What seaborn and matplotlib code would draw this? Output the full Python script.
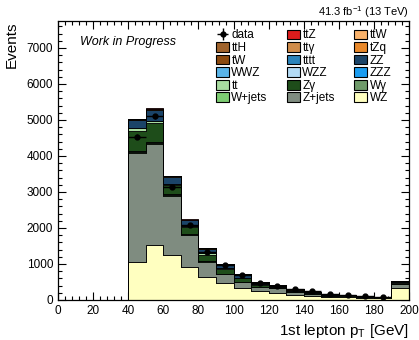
import matplotlib
matplotlib.use("Agg")
import matplotlib.pyplot as plt
import numpy as np
import pandas as pd
import seaborn as sns
from matplotlib.patches import Patch
from matplotlib.ticker import MultipleLocator

sns.set_style("ticks")
plt.rcParams["font.family"] = ["Liberation Sans", "DejaVu Sans"]
plt.rcParams["mathtext.default"] = "regular"
for key in ["text.color", "axes.labelcolor", "xtick.color", "ytick.color", "axes.edgecolor"]:
    plt.rcParams[key] = "black"

# bin lower edges 40..190 (GeV), 10 GeV wide; last bin holds overflow
bin_low = [40, 50, 60, 70, 80, 90, 100, 110, 120, 130, 140, 150, 160, 170, 180, 190]

# stacked backgrounds, top of stack first (same as legend order)
ttZ = [8, 12, 7, 7, 7, 6, 5, 4, 4, 3, 3, 2, 2, 2, 2, 6]
ttW = [4, 5, 3, 3, 3, 3, 2, 2, 1, 1, 1, 1, 1, 0.5, 0.5, 2]
ttH = [3, 4, 3, 3, 3, 2, 2, 1, 1, 1, 1, 1, 0.5, 0.3, 0.3, 1]
ttgamma = [1, 2, 1, 1, 1, 0.5, 0.3, 0.5, 0.3, 0.3, 0.3, 0.3, 0.1, 0.05, 0.05, 0.5]
tZq = [7, 10, 6, 6, 6, 5, 4, 3, 3, 3, 2, 2, 2, 1, 1, 4]
tW = [4, 6, 4, 4, 4, 3, 3, 2, 2, 1, 1, 1, 1, 1, 1, 2]
tttt = [0.2, 0.3, 0.2, 0.2, 0.2, 0.1, 0.1, 0.1, 0.1, 0.1, 0.1, 0.1, 0.1, 0.1, 0.1, 0.3]
ZZ = [240, 310, 195, 150, 125, 96, 80, 50, 35, 28, 20, 17, 16, 10, 10, 30]
WWZ = [5, 7, 4, 4, 4, 4, 3, 2, 2, 2, 1, 1, 1, 1, 1, 2]
WZZ = [2, 3, 2, 2, 2, 1, 0.5, 1, 0.5, 0.5, 0.5, 0.5, 0.3, 0.1, 0.1, 1]
ZZZ = [0.5, 0.5, 0.3, 0.3, 0.3, 0.2, 0.2, 0.1, 0.1, 0.1, 0.1, 0.1, 0.1, 0.1, 0.1, 0.2]
tt = [65, 50, 35, 25, 45, 25, 20, 12, 8, 6, 5, 4, 3, 2, 2, 6]
Zgamma = [560, 520, 250, 210, 170, 120, 90, 55, 38, 30, 22, 18, 16, 10, 10, 30]
Wgamma = [20, 30, 15, 10, 8, 6, 4, 3, 2, 2, 1, 1, 1, 1, 1, 2]
Wjets = [30, 40, 25, 15, 12, 8, 6, 4, 3, 2, 2, 1, 1, 1, 1, 3]
Zjets = [3030, 2790, 1650, 880, 420, 250, 160, 110, 130, 80, 50, 40, 35, 25, 20, 110]
WZ = [1060, 1530, 1250, 920, 640, 470, 340, 250, 190, 140, 110, 80, 70, 55, 45, 340]

# observed data, bins 40..180 (overflow bin point not visible)
data_low = [40, 50, 60, 70, 80, 90, 100, 110, 120, 130, 140, 150, 160, 170, 180]
data = [4540, 5100, 3150, 2090, 1340, 970, 690, 480, 390, 300, 250, 170, 150, 125, 95]

processes = ["ttZ", "ttW", "ttH", "tt\u03b3", "tZq", "tW", "tttt", "ZZ", "WWZ",
             "WZZ", "ZZZ", "tt", "Z\u03b3", "W\u03b3", "W+jets", "Z+jets", "WZ"]
values = [ttZ, ttW, ttH, ttgamma, tZq, tW, tttt, ZZ, WWZ,
          WZZ, ZZZ, tt, Zgamma, Wgamma, Wjets, Zjets, WZ]
colors = {
    "ttZ": "#dc1c1c", "ttW": "#f9b26b", "ttH": "#a0632c", "tt\u03b3": "#d08c4a",
    "tZq": "#e8882a", "tW": "#8b4a0f", "tttt": "#2b83ba", "ZZ": "#1b4468",
    "WWZ": "#5ab4e8", "WZZ": "#b3dbf5", "ZZZ": "#1a9cf0", "tt": "#a8dba0",
    "Z\u03b3": "#1e4d1a", "W\u03b3": "#6f9a6a", "W+jets": "#7dcc72",
    "Z+jets": "#7f8c80", "WZ": "#ffffc0",
}

rows = []
for name, vals in zip(processes, values):
    for lo, v in zip(bin_low, vals):
        rows.append({"pt": lo + 5, "events": v, "process": name})
df = pd.DataFrame(rows)

fig = plt.figure(figsize=(4.19, 3.40), dpi=100)
ax = fig.add_axes([58 / 419, 40 / 340, 351 / 419, 279 / 340])

sns.histplot(data=df, x="pt", weights="events", hue="process", hue_order=processes,
             multiple="stack", binwidth=10, binrange=(0, 200), element="step",
             palette=colors, edgecolor="black", linewidth=0.6, alpha=1,
             legend=False, ax=ax)

centers = np.array(data_low) + 5
data_arr = np.array(data, dtype=float)
dh = ax.errorbar(centers, data_arr, xerr=5, yerr=np.sqrt(data_arr), fmt="o",
                 color="black", markersize=3.5, elinewidth=1, capsize=0, zorder=10)

ax.set_xlim(0, 200)
ax.set_ylim(0, 7750)
ax.xaxis.set_major_locator(MultipleLocator(20))
ax.xaxis.set_minor_locator(MultipleLocator(4))
ax.yaxis.set_major_locator(MultipleLocator(1000))
ax.yaxis.set_minor_locator(MultipleLocator(200))
ax.tick_params(which="both", direction="in", top=True, right=True, labelsize=8.5)
ax.tick_params(which="major", length=5.5, width=0.8)
ax.tick_params(which="minor", length=3, width=0.8)
for s in ax.spines.values():
    s.set_linewidth(0.9)

ax.set_xlabel("1st lepton p$_{T}$ [GeV]", fontsize=11, loc="right", labelpad=4)
ax.set_ylabel("Events", fontsize=11, loc="top", labelpad=6)

ax.text(0.063, 0.925, "Work in Progress", transform=ax.transAxes, fontsize=9,
        style="italic", va="center", ha="left")
ax.text(1.0, 1.004, "41.3 fb$^{-1}$ (13 TeV)", transform=ax.transAxes, fontsize=8,
        va="bottom", ha="right")

handles = {name: Patch(facecolor=colors[name], edgecolor="black", linewidth=0.8)
           for name in processes}
col1 = [("data", dh), ("ttH", handles["ttH"]), ("tW", handles["tW"]),
        ("WWZ", handles["WWZ"]), ("tt", handles["tt"]), ("W+jets", handles["W+jets"])]
col2 = [("ttZ", handles["ttZ"]), ("tt\u03b3", handles["tt\u03b3"]), ("tttt", handles["tttt"]),
        ("WZZ", handles["WZZ"]), ("Z\u03b3", handles["Z\u03b3"]), ("Z+jets", handles["Z+jets"])]
col3 = [("ttW", handles["ttW"]), ("tZq", handles["tZq"]), ("ZZ", handles["ZZ"]),
        ("ZZZ", handles["ZZZ"]), ("W\u03b3", handles["W\u03b3"]), ("WZ", handles["WZ"])]
ordered = col1 + col2 + col3
ax.legend([h for _, h in ordered], [l for l, _ in ordered], ncol=3, frameon=False,
          fontsize=8.5, loc="upper left", bbox_to_anchor=(0.43, 0.995),
          handlelength=1.1, handleheight=0.9, handletextpad=0.2,
          labelspacing=0.05, columnspacing=1.65, borderaxespad=0.2)

fig.savefig("out.png", dpi=100)
